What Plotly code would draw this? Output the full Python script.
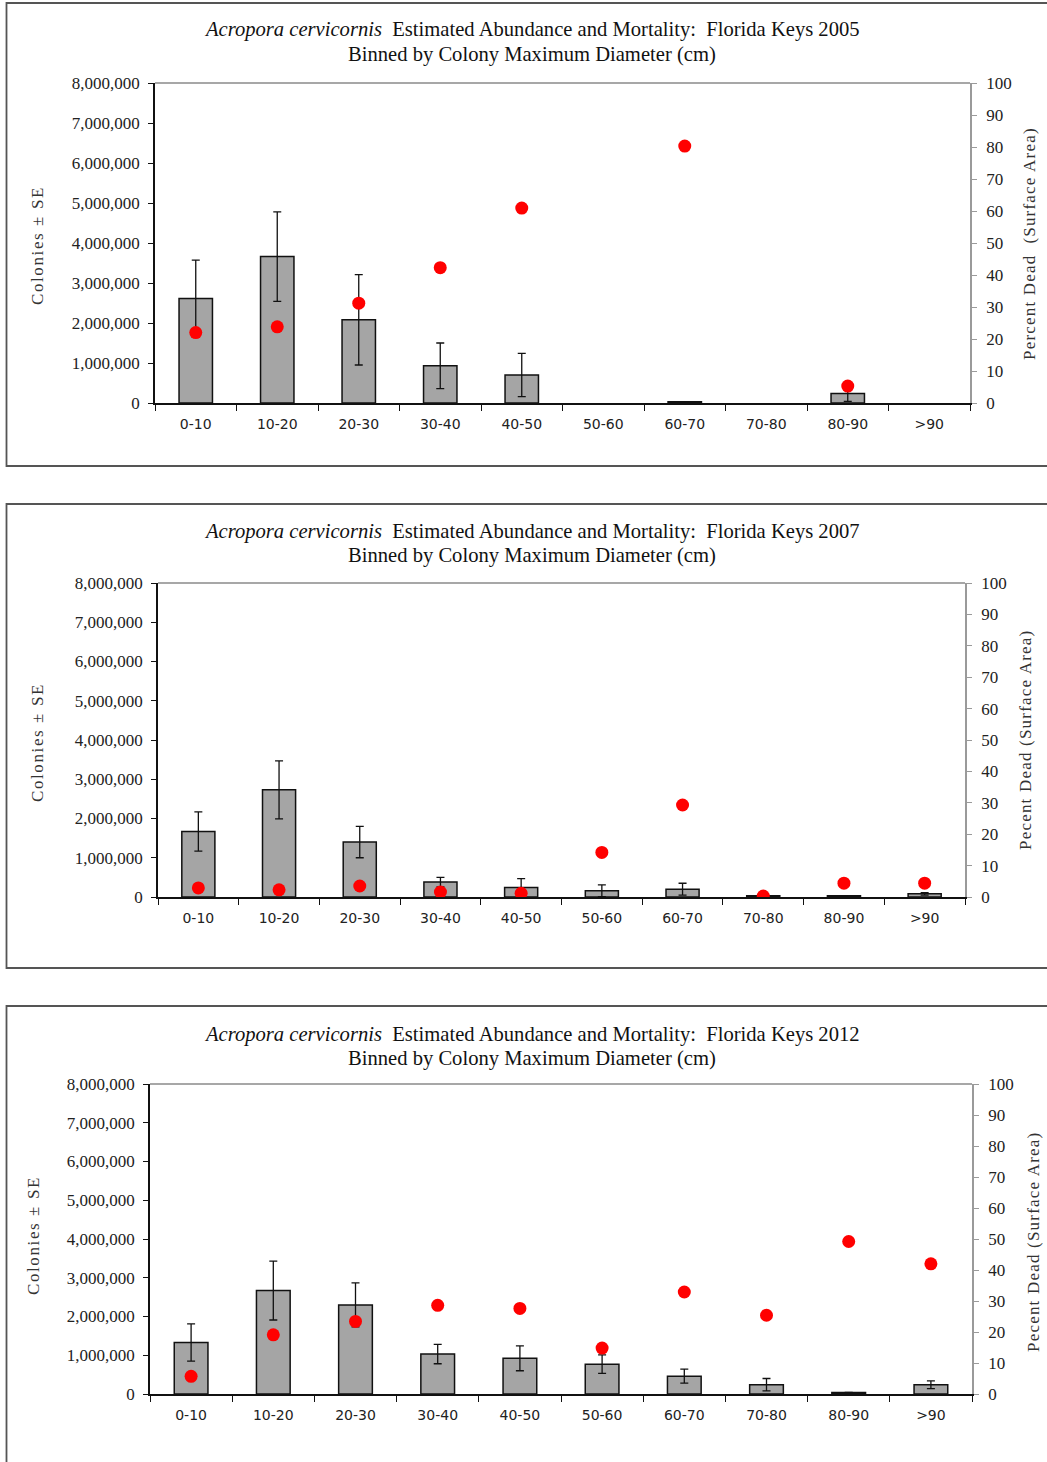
import plotly.graph_objects as go

# Size classes (colony maximum diameter, cm)
categories = ["0-10", "10-20", "20-30", "30-40", "40-50",
              "50-60", "60-70", "70-80", "80-90", ">90"]

# 2005 survey
abund_2005 = [2.61e6, 3.66e6, 2.08e6, 0.93e6, 0.70e6, None, 0.03e6, None, 0.24e6, None]
se_2005 = [0.96e6, 1.12e6, 1.13e6, 0.57e6, 0.54e6, None, 0.0, None, 0.20e6, None]
dead_2005 = [22.0, 23.8, 31.2, 42.3, 60.9, None, 80.3, None, 5.3, None]

# 2007 survey
abund_2007 = [1.67e6, 2.73e6, 1.40e6, 0.38e6, 0.24e6, 0.16e6, 0.20e6, 0.03e6, 0.03e6, 0.08e6]
se_2007 = [0.50e6, 0.74e6, 0.40e6, 0.12e6, 0.23e6, 0.15e6, 0.15e6, 0.0, 0.0, 0.03e6]
dead_2007 = [2.9, 2.3, 3.5, 1.6, 1.2, 14.2, 29.3, 0.3, 4.4, 4.4]

# 2012 survey
abund_2012 = [1.33e6, 2.67e6, 2.30e6, 1.03e6, 0.92e6, 0.77e6, 0.46e6, 0.24e6, 0.04e6, 0.24e6]
se_2012 = [0.48e6, 0.76e6, 0.57e6, 0.25e6, 0.32e6, 0.24e6, 0.18e6, 0.16e6, 0.0, 0.10e6]
dead_2012 = [5.7, 19.1, 23.4, 28.6, 27.6, 14.8, 32.9, 25.4, 49.2, 42.0]

years = ["2005", "2007", "2012"]
right_titles = ["Percent Dead\u00a0\u00a0(Surface Area)",
                "Pecent Dead (Surface Area)",
                "Pecent Dead (Surface Area)"]
series = [(abund_2005, se_2005, dead_2005),
          (abund_2007, se_2007, dead_2007),
          (abund_2012, se_2012, dead_2012)]

W, H = 1047, 1462
SERIF = "Liberation Serif, Times New Roman, serif"
SANS = "DejaVu Sans, Verdana, sans-serif"

# panel geometry in pixels: plot left, right, top, bottom; frame top, frame bottom;
# title line, left / right axis-title positions
panels = [
    dict(l=155, r=970, t=83, b=403, ft=3, fb=466, title_y=30,
         lt_x=37, lt_y=246, rt_x=1030, rt_y=244),
    dict(l=158, r=965, t=583, b=897, ft=504, fb=968, title_y=531,
         lt_x=37, lt_y=743, rt_x=1025, rt_y=740),
    dict(l=150, r=972, t=1084, b=1394, ft=1006, fb=1480, title_y=1034,
         lt_x=33, lt_y=1236, rt_x=1033, rt_y=1242),
]


def px(x):
    return x / W


def py(y):
    return 1 - y / H


fig = go.Figure()
layout = dict(width=W, height=H, margin=dict(l=0, r=0, t=0, b=0, pad=0),
              paper_bgcolor="white", plot_bgcolor="white",
              showlegend=False, bargap=0.59)
shapes = []
annotations = []

for i, (p, (abund, se, dead), yr) in enumerate(zip(panels, series, years)):
    n = 2 * i
    xa = "x" if i == 0 else f"x{i + 1}"
    ya = "y" if n == 0 else f"y{n + 1}"
    ya2 = f"y{n + 2}"

    fig.add_trace(go.Bar(
        x=categories, y=abund, xaxis=xa, yaxis=ya,
        marker=dict(color="#a5a5a5", line=dict(color="#111111", width=1.5)),
        error_y=dict(type="data", array=se, visible=True,
                     color="#111111", thickness=1.3, width=4),
    ))
    fig.add_trace(go.Scatter(
        x=categories, y=dead, xaxis=xa, yaxis=ya2, mode="markers",
        marker=dict(color="#ff0000", size=13),
    ))

    xkey = "xaxis" if i == 0 else f"xaxis{i + 1}"
    ykey = "yaxis" if n == 0 else f"yaxis{n + 1}"
    y2key = f"yaxis{n + 2}"
    dom_x = [px(p["l"]), px(p["r"])]
    dom_y = [py(p["b"]), py(p["t"])]

    layout[xkey] = dict(
        domain=dom_x, anchor=ya, type="category", automargin=False,
        range=[-0.5, len(categories) - 0.5],
        showline=True, linecolor="#111111", linewidth=1.5,
        ticks="outside", tickson="boundaries", ticklen=6, tickcolor="#111111",
        tickwidth=1.3, showgrid=False, zeroline=False,
        tickfont=dict(family=SANS, size=14, color="#222222"),
        ticklabelstandoff=7,
    )
    layout[ykey] = dict(
        domain=dom_y, anchor=xa, range=[0, 8e6], dtick=1e6, automargin=False,
        tickformat=",d", showline=True, linecolor="#111111", linewidth=1.5,
        ticks="outside", ticklen=5, tickcolor="#111111", tickwidth=1.3,
        showgrid=False, zeroline=False, ticklabelstandoff=5,
        tickfont=dict(family=SERIF, size=17, color="#222222"),
    )
    layout[y2key] = dict(
        overlaying=ya, anchor=xa, side="right", range=[0, 100], dtick=10,
        automargin=False, showline=True, linecolor="#9a9a9a", linewidth=1.5,
        ticks="outside", ticklen=5, tickcolor="#9a9a9a", tickwidth=1.3,
        showgrid=False, zeroline=False, ticklabelstandoff=6,
        tickfont=dict(family=SERIF, size=17, color="#222222"),
    )

    # top edge of the plot area
    shapes.append(dict(type="line", xref="paper", yref="paper",
                       x0=px(p["l"]), x1=px(p["r"]), y0=py(p["t"]), y1=py(p["t"]),
                       line=dict(color="#8a8a8a", width=1.5)))
    # chart frame
    shapes.append(dict(type="rect", xref="paper", yref="paper",
                       x0=px(6.5), x1=px(1080), y0=py(p["fb"]), y1=py(p["ft"]),
                       line=dict(color="#555555", width=1.8)))

    annotations.append(dict(
        xref="paper", yref="paper", x=px(532), y=py(p["title_y"]),
        text=f"<i>Acropora cervicornis</i>\u00a0 Estimated Abundance and Mortality:\u00a0 Florida Keys {yr}",
        showarrow=False, xanchor="center", yanchor="middle",
        font=dict(family=SERIF, size=20.6, color="#111111")))
    annotations.append(dict(
        xref="paper", yref="paper", x=px(532), y=py(p["title_y"] + 24),
        text="Binned by Colony Maximum Diameter (cm)",
        showarrow=False, xanchor="center", yanchor="middle",
        font=dict(family=SERIF, size=20.6, color="#111111")))
    annotations.append(dict(
        xref="paper", yref="paper", x=px(p["lt_x"]), y=py(p["lt_y"]),
        text='<span style="letter-spacing:1.6px">Colonies ± SE</span>',
        textangle=-90, showarrow=False, xanchor="center", yanchor="middle",
        font=dict(family=SERIF, size=17, color="#333333")))
    annotations.append(dict(
        xref="paper", yref="paper", x=px(p["rt_x"]), y=py(p["rt_y"]),
        text=f'<span style="letter-spacing:1.2px">{right_titles[i]}</span>',
        textangle=-90, showarrow=False, xanchor="center", yanchor="middle",
        font=dict(family=SERIF, size=17, color="#333333")))

layout["shapes"] = shapes
layout["annotations"] = annotations
fig.update_layout(**layout)

# the page holds only the figure, so drop the default body margin
fig.write_html("out.html",
               post_script="document.body.style.margin='0';")
